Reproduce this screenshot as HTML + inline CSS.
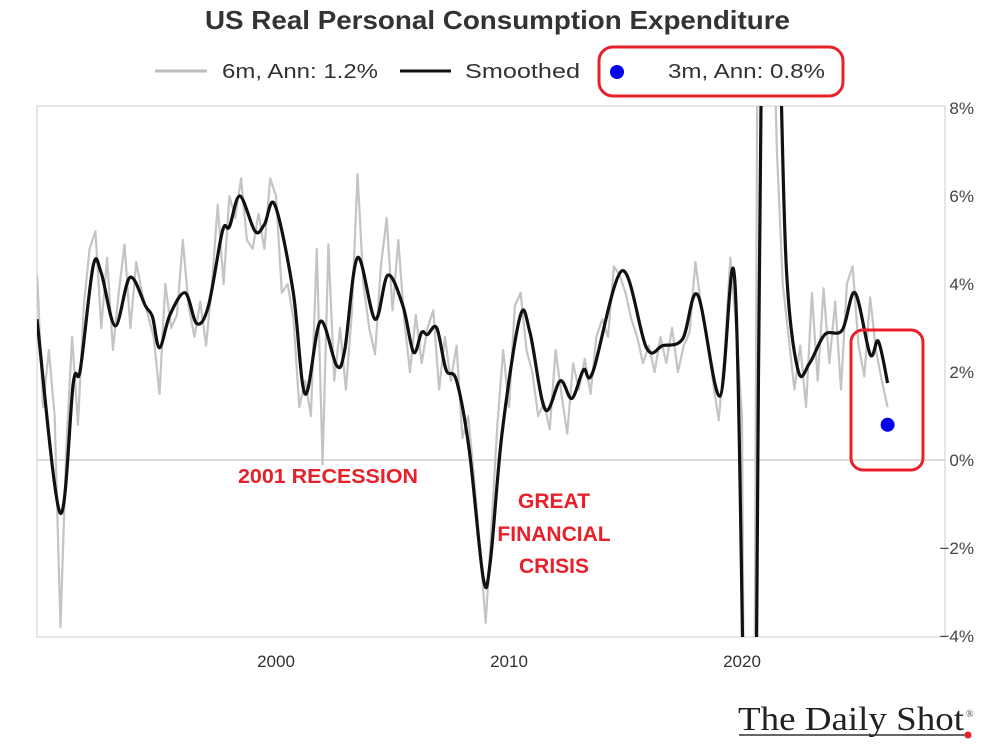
<!DOCTYPE html>
<html><head><meta charset="utf-8"><style>
body{margin:0;background:#fff;width:993px;height:755px;overflow:hidden}
svg{display:block}
</style></head><body>
<svg width="993" height="755" viewBox="0 0 993 755" font-family="Liberation Sans, sans-serif">
<defs><clipPath id="pc"><rect x="37" y="106" width="908" height="531"/></clipPath></defs>
<text x="205" y="29" font-size="26" font-weight="bold" fill="#333" textLength="585" lengthAdjust="spacingAndGlyphs">US Real Personal Consumption Expenditure</text>
<g>
<line x1="155" y1="71" x2="207" y2="71" stroke="#bdbdbd" stroke-width="3"/>
<text x="222" y="78" font-size="20" fill="#333" textLength="156" lengthAdjust="spacingAndGlyphs">6m, Ann: 1.2%</text>
<line x1="400" y1="71" x2="451" y2="71" stroke="#111" stroke-width="3"/>
<text x="465" y="78" font-size="20" fill="#333" textLength="115" lengthAdjust="spacingAndGlyphs">Smoothed</text>
<circle cx="617" cy="72" r="7" fill="#0000ee"/>
<text x="668" y="78" font-size="20" fill="#333" textLength="157" lengthAdjust="spacingAndGlyphs">3m, Ann: 0.8%</text>
<rect x="599" y="47" width="244" height="49" rx="14" fill="none" stroke="#e8202a" stroke-width="3"/>
</g>
<rect x="37" y="106" width="908" height="531" fill="none" stroke="#ddd" stroke-width="1.5"/>
<g id="yaxis"></g>
<g id="xaxis"></g>
<g clip-path="url(#pc)"><g id="series"></g></g>
<circle id="dot" r="7" fill="#0000ee"/>
<rect x="851" y="330" width="72" height="140" rx="12" fill="none" stroke="#e8202a" stroke-width="3"/>
<text x="238" y="483" font-size="20" font-weight="bold" fill="#e8202a" textLength="180" lengthAdjust="spacingAndGlyphs">2001 RECESSION</text>
<g font-size="21" font-weight="bold" fill="#e8202a" text-anchor="middle">
<text x="554" y="508">GREAT</text><text x="554" y="541">FINANCIAL</text><text x="554" y="573">CRISIS</text></g>
<g>
<text x="738" y="730" style="font-family:'Liberation Serif',serif" font-size="34" fill="#222" textLength="226" lengthAdjust="spacingAndGlyphs">The Daily Shot</text>
<text x="966" y="717" style="font-family:'Liberation Serif',serif" font-size="10" fill="#444">®</text>
<line x1="739" y1="735" x2="967" y2="735" stroke="#333" stroke-width="1.5"/>
<circle cx="968" cy="735" r="3.5" fill="#e8202a"/>
</g>
</svg>
<script>
const yTicks=[8,6,4,2,0,-2,-4];
const xTicks=[2000,2010,2020];
const smYears=[1989.74,1990.73,1991.3,1991.6,1992.15,1992.5,1993.1,1993.73,1994.4,1994.7,1995.0,1995.45,1996.1,1996.6,1997.1,1997.7,1998.0,1998.45,1999.1,1999.5,1999.95,2000.73,2001.25,2001.9,2002.6,2002.95,2003.5,2004.25,2004.8,2005.45,2005.9,2006.25,2006.5,2006.9,2007.3,2007.75,2008.3,2008.9,2009.2,2009.7,2010.47,2010.9,2011.55,2012.2,2012.7,2013.2,2013.6,2014.85,2015.9,2016.6,2017.45,2018.1,2019.05,2019.7,2020.15,2020.4,2020.6,2020.85,2021.3,2021.6,2021.9,2022.4,2022.9,2023.55,2024.3,2024.85,2025.5,2025.85,2026.25];
const smValues=[3.2,-1.2,1.75,2.05,4.4,4.25,3.05,4.15,3.5,3.25,2.55,3.3,3.8,3.1,3.5,5.2,5.3,6.0,5.2,5.35,5.8,3.85,1.5,3.15,2.15,2.5,4.6,3.2,4.2,3.5,2.45,2.9,2.85,3.0,2.05,1.8,0.2,-2.7,-2.3,0.6,3.25,2.9,1.15,1.8,1.4,2.05,2.0,4.3,2.55,2.6,2.75,3.75,1.45,4.0,-8,-12,-6,10,14,10,4.4,2.05,2.2,2.85,2.95,3.8,2.4,2.7,1.75];
const grayStart=1989.75, grayStep=0.25;
const grayValues=[4.2,1.2,2.5,1.0,-3.8,0.3,2.8,0.8,3.5,4.8,5.2,3.0,4.6,2.5,3.8,4.9,3.0,4.5,3.8,3.3,2.8,1.5,4.0,3.0,3.3,5.0,3.5,2.8,3.6,2.6,4.0,5.8,4.0,6.0,5.5,6.4,5.0,4.8,5.6,4.8,6.4,6.0,3.8,4.0,3.2,1.2,1.8,1.0,4.8,-0.1,4.9,1.8,3.0,1.6,3.3,6.5,4.0,3.0,2.4,4.4,5.5,3.4,5.0,3.2,2.0,3.3,2.2,3.0,3.4,1.6,2.8,1.8,2.6,0.5,1.0,-0.4,-2.0,-3.7,-1.5,0.8,2.5,1.2,3.5,3.8,2.5,2.0,1.0,1.3,0.7,2.5,1.5,0.6,2.2,1.6,2.3,1.5,2.8,3.2,2.8,4.4,4.2,3.8,3.2,2.8,2.2,2.6,2.0,2.8,2.2,3.0,2.0,2.6,2.9,4.5,3.5,2.8,1.8,0.9,2.4,4.6,3.0,1.0,-20,-10,20,10,12,7.0,4.0,2.8,1.6,2.6,1.2,3.8,1.8,3.9,2.2,3.6,1.6,4.0,4.4,2.6,1.9,3.7,2.5,1.8,1.2];
const latestYear=2026.25, latest3m=0.8;

const X=y=>276+(y-2000)*23.3;
const Y=v=>460-v*44;
const NS="http://www.w3.org/2000/svg";
function mk(t,a,p){const e=document.createElementNS(NS,t);for(const k in a)e.setAttribute(k,a[k]);p.appendChild(e);return e;}
const ya=document.getElementById('yaxis'),xa=document.getElementById('xaxis'),sr=document.getElementById('series');
yTicks.forEach(v=>{
  if(v===0){const g=mk('line',{x1:37,x2:945,y1:Y(0),y2:Y(0),stroke:'#d0d0d0','stroke-width':1.5},ya);
  
  }
  const t=mk('text',{x:974,y:Y(v)+6,'text-anchor':'end','font-size':17,fill:'#444'},ya);
  t.textContent=v<0?('\u2212'+(-v)+'%'):(v+'%');
  
  
});
xTicks.forEach(yr=>{
  const t=mk('text',{x:X(yr),y:667,'text-anchor':'middle','font-size':17,fill:'#333'},xa);
  t.textContent=yr;
  
  
});
const gp=grayValues.map((v,i)=>[X(grayStart+i*grayStep),Y(v)]);
const g=mk('polyline',{points:gp.map(p=>p.join(',')).join(' '),fill:'none',stroke:'#c4c4c4','stroke-width':2.2,'stroke-linejoin':'round'},sr);


const sp=smYears.map((yr,i)=>[X(yr),Y(smValues[i])]);
let d='M'+sp[0][0]+','+sp[0][1];
for(let i=0;i<sp.length-1;i++){
  const p0=sp[Math.max(0,i-1)],p1=sp[i],p2=sp[i+1],p3=sp[Math.min(sp.length-1,i+2)];
  const c1=[p1[0]+(p2[0]-p0[0])/6,p1[1]+(p2[1]-p0[1])/6],c2=[p2[0]-(p3[0]-p1[0])/6,p2[1]-(p3[1]-p1[1])/6];
  d+=' C'+c1.join(',')+' '+c2.join(',')+' '+p2.join(',');
}
const s=mk('path',{d:d,fill:'none',stroke:'#111','stroke-width':3.2,'stroke-linejoin':'round'},sr);


const dot=document.getElementById('dot');dot.setAttribute('cx',X(latestYear));dot.setAttribute('cy',Y(latest3m));
</script>
</body></html>
